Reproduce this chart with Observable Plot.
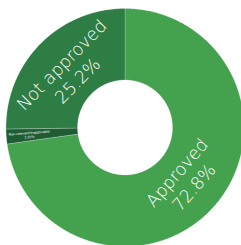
<!DOCTYPE html>
<html>
<head>
<meta charset="utf-8">
<script src="https://cdn.jsdelivr.net/npm/d3@7"></script>
<script src="https://cdn.jsdelivr.net/npm/@observablehq/plot@0.6"></script>
<style>
  html, body { margin: 0; padding: 0; background: #fff; }
  #chart svg { display: block; }
</style>
</head>
<body>
<div id="chart"></div>
<script>
const categories = ["Approved", "Non-relevant/Inapplicable", "Not approved"];
const values = [72.8, 2.02, 25.2];
const valueLabels = ["72.8%", "2.02%", "25.2%"];
const colors = ["#44a24f", "#1f5c33", "#2e7d44"];

const W = 241, H = 245;
const cx = 124.5, cy = 127;
const rOuter = 119, rInner = 47.5;

const pie = d3.pie().sort(null).value(d => d.value);
const arcs = pie(categories.map((c, i) => ({category: c, value: values[i], label: valueLabels[i]})));

const pts = [];
arcs.forEach(a => {
  const n = Math.max(4, Math.ceil((a.endAngle - a.startAngle) / (Math.PI / 360)));
  const ring = [];
  for (let k = 0; k <= n; k++) {
    const t = a.startAngle + (a.endAngle - a.startAngle) * k / n;
    ring.push([rOuter * Math.sin(t), -rOuter * Math.cos(t)]);
  }
  for (let k = n; k >= 0; k--) {
    const t = a.startAngle + (a.endAngle - a.startAngle) * k / n;
    ring.push([rInner * Math.sin(t), -rInner * Math.cos(t)]);
  }
  ring.push(ring[0]);
  ring.forEach(([x, y]) => pts.push({x, y, category: a.data.category}));
});

const textData = arcs.map(a => {
  const mid = (a.startAngle + a.endAngle) / 2;
  const deg = mid * 180 / Math.PI;
  const thin = (a.endAngle - a.startAngle) < 0.2;
  const r = thin ? 96 : 79;
  let rotate;
  if (thin) rotate = deg > 180 ? deg - 270 : deg - 90;
  else rotate = (deg > 90 && deg < 270) ? deg - 180 : (deg >= 270 ? deg - 360 : deg);
  return {
    x: r * Math.sin(mid), y: -r * Math.cos(mid), rotate,
    text: a.data.category + "\n" + a.data.label,
    thin
  };
});

const chart = Plot.plot({
  width: W, height: H,
  margin: 0,
  x: {domain: [-cx, W - cx], range: [0, W], axis: null},
  y: {domain: [-cy, H - cy], range: [0, H], axis: null},
  color: {domain: categories, range: colors},
  style: {fontFamily: "'DejaVu Sans', sans-serif", background: "#fff"},
  marks: [
    Plot.line(pts, {x: "x", y: "y", z: "category", fill: "category", stroke: "#ffffff", strokeOpacity: 0.35, strokeWidth: 0.6, curve: "linear"}),
    Plot.text(textData.filter(d => !d.thin), {x: "x", y: "y", text: "text", rotate: "rotate", fill: "white", fontSize: 17.5, lineHeight: 1.28, fontWeight: 200, textAnchor: "middle", lineAnchor: "middle"}),
    Plot.text(textData.filter(d => d.thin), {x: "x", y: "y", text: "text", rotate: "rotate", fill: "white", fontSize: 3.2, lineHeight: 1.3, textAnchor: "middle", lineAnchor: "middle"})
  ]
});
document.getElementById("chart").appendChild(chart);
</script>
</body>
</html>
